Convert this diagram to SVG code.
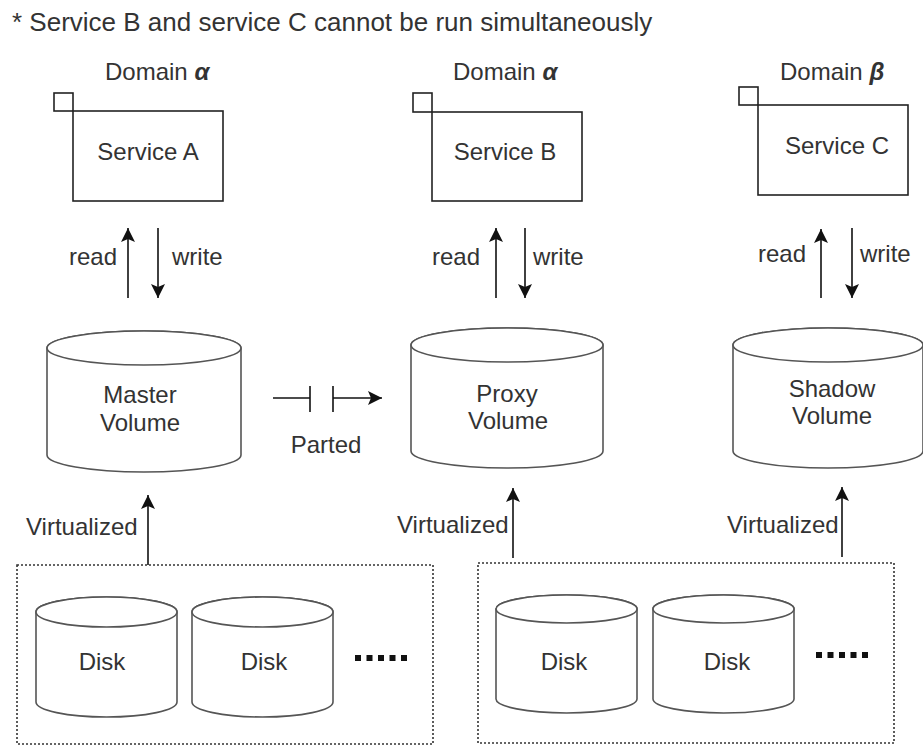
<svg xmlns="http://www.w3.org/2000/svg" width="923" height="745" viewBox="0 0 923 745">
<defs>
<style>
text{font-family:"Liberation Sans",Arial,sans-serif;font-size:24px;fill:#333}
.t{font-size:26px}
.m{text-anchor:middle}
.box{fill:#fff;stroke:#222;stroke-width:1.6}
.cyl{fill:#fff;stroke:#555;stroke-width:1.6}
.dot{fill:none;stroke:#333;stroke-width:1.6;stroke-dasharray:2 2}
.ln{stroke:#111;stroke-width:1.6;fill:none}
.gk{font-style:italic;font-weight:bold}
</style>
<marker id="ah" markerUnits="userSpaceOnUse" markerWidth="16" markerHeight="16" viewBox="0 0 16 16" refX="15" refY="8" orient="auto">
<path d="M1,1 L15,8 L1,15 L4,8 Z" fill="#111"/>
</marker>
</defs>
<rect width="923" height="745" fill="#fff"/>
<text class="t" x="12" y="31">* Service B and service C cannot be run simultaneously</text>

<g id="serviceA">
<text x="105" y="80">Domain <tspan class="gk">α</tspan></text>
<rect class="box" x="54" y="93" width="19" height="18"/>
<rect class="box" x="73" y="111" width="150" height="90"/>
<text class="m" x="148" y="160">Service A</text>
</g>
<g id="serviceB">
<text x="453" y="80">Domain <tspan class="gk">α</tspan></text>
<rect class="box" x="413" y="93" width="19" height="19"/>
<rect class="box" x="432" y="112" width="150" height="89"/>
<text class="m" x="505" y="160">Service B</text>
</g>
<g id="serviceC">
<text x="780" y="80">Domain <tspan class="gk">β</tspan></text>
<rect class="box" x="739" y="87" width="19" height="18"/>
<rect class="box" x="758" y="105" width="150" height="90"/>
<text class="m" x="837" y="154">Service C</text>
</g>

<g id="master">
<path class="cyl" d="M47,348 A97,17 0 0 1 241,348 L241,455 A97,17 0 0 1 47,455 Z"/>
<ellipse class="cyl" cx="144" cy="348" rx="97" ry="17" fill="none"/>
<text class="m" x="140" y="403">Master</text>
<text class="m" x="140" y="431">Volume</text>
</g>
<g id="proxy">
<path class="cyl" d="M411,345 A96,17 0 0 1 603,345 L603,451 A96,17 0 0 1 411,451 Z"/>
<ellipse class="cyl" cx="507" cy="345" rx="96" ry="17" fill="none"/>
<text class="m" x="507" y="402">Proxy</text>
<text class="m" x="508" y="429">Volume</text>
</g>
<g id="shadow">
<path class="cyl" d="M733,345 A95,17 0 0 1 923,345 L923,451 A95,17 0 0 1 733,451 Z"/>
<ellipse class="cyl" cx="828" cy="345" rx="95" ry="17" fill="none"/>
<text class="m" x="832" y="397">Shadow</text>
<text class="m" x="832" y="424">Volume</text>
</g>

<g id="pool1">
<rect class="dot" x="17" y="565" width="416" height="179"/>
<path class="cyl" d="M36,612 A70.5,15 0 0 1 177,612 L177,702 A70.5,15 0 0 1 36,702 Z"/>
<ellipse class="cyl" cx="106.5" cy="612" rx="70.5" ry="15" fill="none"/>
<text class="m" x="102" y="670">Disk</text>
<path class="cyl" d="M192,612 A70.5,15 0 0 1 333,612 L333,702 A70.5,15 0 0 1 192,702 Z"/>
<ellipse class="cyl" cx="262.5" cy="612" rx="70.5" ry="15" fill="none"/>
<text class="m" x="264" y="670">Disk</text>
<g fill="#111"><rect x="355" y="655" width="6" height="6"/><rect x="366.5" y="655" width="6" height="6"/><rect x="378" y="655" width="6" height="6"/><rect x="389.5" y="655" width="6" height="6"/><rect x="401" y="655" width="6" height="6"/></g>
</g>
<g id="pool2">
<rect class="dot" x="478" y="563" width="416" height="180"/>
<path class="cyl" d="M496,609 A70.5,14 0 0 1 637,609 L637,699 A70.5,14 0 0 1 496,699 Z"/>
<ellipse class="cyl" cx="566.5" cy="609" rx="70.5" ry="14" fill="none"/>
<text class="m" x="564" y="670">Disk</text>
<path class="cyl" d="M653,609 A70.5,14 0 0 1 794,609 L794,699 A70.5,14 0 0 1 653,699 Z"/>
<ellipse class="cyl" cx="723.5" cy="609" rx="70.5" ry="14" fill="none"/>
<text class="m" x="727" y="670">Disk</text>
<g fill="#111"><rect x="816" y="652" width="6" height="6"/><rect x="827.5" y="652" width="6" height="6"/><rect x="839" y="652" width="6" height="6"/><rect x="850.5" y="652" width="6" height="6"/><rect x="862" y="652" width="6" height="6"/></g>
</g>

<g id="connectors">
<line class="ln" x1="128" y1="298" x2="128" y2="228" marker-end="url(#ah)"/>
<line class="ln" x1="158" y1="228" x2="158" y2="298" marker-end="url(#ah)"/>
<text x="69" y="265">read</text>
<text x="172" y="265">write</text>
<line class="ln" x1="496" y1="298" x2="496" y2="228" marker-end="url(#ah)"/>
<line class="ln" x1="525" y1="228" x2="525" y2="298" marker-end="url(#ah)"/>
<text x="432" y="265">read</text>
<text x="533" y="265">write</text>
<line class="ln" x1="821" y1="298" x2="821" y2="229" marker-end="url(#ah)"/>
<line class="ln" x1="852" y1="228" x2="852" y2="298" marker-end="url(#ah)"/>
<text x="758" y="262">read</text>
<text x="860" y="262">write</text>

<line class="ln" x1="273" y1="398" x2="310" y2="398"/>
<line class="ln" x1="310" y1="386" x2="310" y2="412" stroke-width="2.4"/>
<line class="ln" x1="333" y1="386" x2="333" y2="412" stroke-width="2.8"/>
<line class="ln" x1="333" y1="398" x2="382" y2="398" marker-end="url(#ah)"/>
<text class="m" x="326" y="453">Parted</text>

<line class="ln" x1="148" y1="565" x2="148" y2="495" marker-end="url(#ah)"/>
<text x="26" y="535">Virtualized</text>
<line class="ln" x1="513" y1="558" x2="513" y2="488" marker-end="url(#ah)"/>
<text x="397" y="533">Virtualized</text>
<line class="ln" x1="842" y1="557" x2="842" y2="487" marker-end="url(#ah)"/>
<text x="727" y="533">Virtualized</text>
</g>
</svg>
